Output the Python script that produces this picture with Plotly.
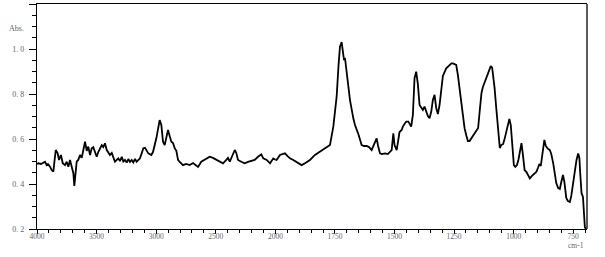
import plotly.graph_objects as go

# Wavenumber (cm-1) and absorbance
wavenumber = [4000, 3989, 3966, 3950, 3933, 3919, 3908, 3891, 3877, 3863, 3853, 3843, 3828, 3815,
              3799, 3784, 3765, 3751, 3737, 3723, 3709, 3695, 3687, 3677, 3667, 3654, 3639, 3625,
              3612, 3597, 3583, 3570, 3555, 3541, 3528, 3513, 3499, 3486, 3471, 3457, 3444, 3430,
              3415, 3402, 3388, 3373, 3360, 3346, 3331, 3318, 3304, 3289, 3276, 3262, 3248, 3234,
              3220, 3206, 3192, 3178, 3164, 3150, 3136, 3122, 3108, 3094, 3080, 3066, 3041, 3027,
              2999, 2985, 2971, 2957, 2943, 2929, 2915, 2901, 2887, 2873, 2859, 2845, 2831, 2817,
              2803, 2775, 2748, 2719, 2691, 2664, 2649, 2622, 2580, 2551, 2524, 2496, 2467, 2440,
              2412, 2398, 2383, 2356, 2341, 2328, 2314, 2286, 2258, 2230, 2202, 2174, 2146, 2118,
              2102, 2073, 2045, 2018, 1995, 1981, 1960, 1949, 1939, 1925, 1911, 1890, 1876, 1855,
              1834, 1813, 1785, 1771, 1757, 1743, 1735, 1729, 1722, 1716, 1712, 1708, 1700, 1687,
              1673, 1666, 1652, 1638, 1628, 1617, 1607, 1596, 1591, 1583, 1575, 1569, 1561, 1553,
              1540, 1528, 1512, 1505, 1500, 1491, 1484, 1479, 1470, 1465, 1456, 1451, 1442, 1437,
              1430, 1423, 1416, 1409, 1402, 1395, 1387, 1381, 1374, 1367, 1360, 1353, 1346, 1339,
              1332, 1325, 1318, 1311, 1304, 1297, 1283, 1269, 1261, 1255, 1247, 1241, 1234, 1225,
              1220, 1213, 1206, 1198, 1192, 1185, 1178, 1171, 1164, 1154, 1149, 1142, 1135, 1129,
              1121, 1115, 1107, 1100, 1096, 1090, 1085, 1080, 1073, 1066, 1058, 1052, 1044, 1037,
              1030, 1024, 1018, 1012, 1004, 999, 993, 986, 980, 974, 967, 961, 954, 946, 939, 932,
              923, 915, 904, 898, 892, 886, 879, 871, 865, 856, 848, 842, 834, 827, 821, 813, 806,
              800, 793, 787, 779, 772, 764, 758, 751, 743, 736, 729, 724, 720, 715, 709, 705, 701, 697]

absorbance = [0.489, 0.492, 0.489, 0.493, 0.499, 0.484, 0.489, 0.477, 0.462, 0.455, 0.498, 0.551, 0.538, 0.507,
              0.529, 0.492, 0.484, 0.499, 0.477, 0.507, 0.477, 0.448, 0.391, 0.453, 0.499, 0.507, 0.529, 0.516,
              0.559, 0.588, 0.547, 0.566, 0.529, 0.559, 0.564, 0.536, 0.521, 0.542, 0.559, 0.573, 0.564, 0.581,
              0.551, 0.542, 0.529, 0.538, 0.521, 0.499, 0.507, 0.514, 0.502, 0.521, 0.500, 0.507, 0.495, 0.511,
              0.498, 0.507, 0.496, 0.511, 0.499, 0.507, 0.514, 0.536, 0.559, 0.561, 0.551, 0.536, 0.529, 0.542,
              0.603, 0.649, 0.684, 0.662, 0.588, 0.573, 0.604, 0.640, 0.613, 0.588, 0.582, 0.559, 0.547, 0.507,
              0.498, 0.484, 0.489, 0.484, 0.493, 0.484, 0.476, 0.499, 0.514, 0.521, 0.516, 0.507, 0.499, 0.492,
              0.507, 0.516, 0.499, 0.536, 0.551, 0.538, 0.507, 0.499, 0.492, 0.498, 0.502, 0.507, 0.521, 0.532,
              0.514, 0.507, 0.492, 0.514, 0.507, 0.529, 0.536, 0.524, 0.514, 0.507, 0.498, 0.484, 0.492, 0.507,
              0.529, 0.544, 0.566, 0.573, 0.655, 0.788, 0.929, 1.010, 1.031, 0.987, 0.951, 0.960, 0.884, 0.773,
              0.692, 0.662, 0.622, 0.573, 0.569, 0.569, 0.564, 0.551, 0.564, 0.587, 0.603, 0.569, 0.536, 0.533,
              0.536, 0.533, 0.551, 0.625, 0.573, 0.551, 0.596, 0.631, 0.640, 0.655, 0.670, 0.677, 0.677, 0.670,
              0.655, 0.707, 0.870, 0.899, 0.844, 0.751, 0.738, 0.729, 0.744, 0.724, 0.702, 0.692, 0.721, 0.773,
              0.796, 0.738, 0.711, 0.751, 0.825, 0.880, 0.914, 0.929, 0.936, 0.936, 0.933, 0.929, 0.884, 0.788,
              0.766, 0.707, 0.648, 0.613, 0.591, 0.591, 0.603, 0.609, 0.625, 0.640, 0.649, 0.729, 0.804, 0.831,
              0.853, 0.871, 0.899, 0.920, 0.924, 0.916, 0.880, 0.827, 0.738, 0.640, 0.560, 0.573, 0.578, 0.604,
              0.631, 0.658, 0.689, 0.662, 0.560, 0.484, 0.476, 0.484, 0.507, 0.538, 0.582, 0.529, 0.462, 0.453, 0.436, 0.425,
              0.436, 0.444, 0.455, 0.471, 0.489, 0.480, 0.529, 0.596, 0.569, 0.556, 0.551, 0.533, 0.493, 0.431, 0.404, 0.382, 0.378,
              0.409, 0.440, 0.409, 0.338, 0.324, 0.320, 0.347, 0.396, 0.462, 0.507, 0.536, 0.516, 0.440, 0.360, 0.342, 0.284, 0.209, 0.200]

high_ticks = [4000, 3500, 3000, 2500, 2000]
low_ticks = [1750, 1500, 1250, 1000, 750]
y_ticks = [0.2, 0.4, 0.6, 0.8, 1.0, 1.2]
y_tick_text = ["0. 2", "0. 4", "0. 6", "0. 8", "1. 0", "1. 2"]

X_END = 692
SPLIT = 0.4335  # fraction of width holding 4000-2000 (scale changes at 2000)

# split with one overlapping point on each side so the line joins at 2000
hi_w = [w for w in wavenumber if w >= 1995]
hi_a = absorbance[:len(hi_w)]
start_lo = next(i for i, w in enumerate(wavenumber) if w < 2000) - 1
lo_w = wavenumber[start_lo:]
lo_a = absorbance[start_lo:]

line = dict(color="black", width=1.8)
fig = go.Figure()
fig.add_trace(go.Scatter(x=hi_w, y=hi_a, mode="lines", line=line, xaxis="x", yaxis="y",
                         showlegend=False, hoverinfo="skip"))
fig.add_trace(go.Scatter(x=lo_w, y=lo_a, mode="lines", line=line, xaxis="x2", yaxis="y",
                         showlegend=False, hoverinfo="skip"))

tfont = dict(family="Liberation Serif", size=8, color="#5f5f6a")
xfont = dict(family="Liberation Serif", size=7.5, color="#5f5f6a")
axis_common = dict(showline=True, linecolor="black", linewidth=1.3, mirror=True,
                   showgrid=False, zeroline=False, ticks="outside", tickcolor="black",
                   tickwidth=1, ticklen=4, tickfont=xfont, ticklabelstandoff=-4)

fig.update_layout(
    width=605, height=257,
    margin=dict(l=37, r=18, t=4, b=28),
    plot_bgcolor="white", paper_bgcolor="white",
    xaxis=dict(domain=[0, SPLIT], range=[4000, 2000], tickmode="array", tickvals=high_ticks,
               ticktext=[str(v) for v in high_ticks], anchor="y",
               minor=dict(tickmode="linear", tick0=4000, dtick=100, ticks="outside",
                          ticklen=3, tickcolor="black", showgrid=False),
               **axis_common),
    xaxis2=dict(domain=[SPLIT, 1], range=[2000, X_END], tickmode="array", tickvals=low_ticks,
                ticktext=[str(v) for v in low_ticks], anchor="y",
                minor=dict(tickmode="linear", tick0=2000, dtick=50, ticks="outside",
                           ticklen=3, tickcolor="black", showgrid=False),
                **axis_common),
    yaxis=dict(range=[0.2, 1.2], tickmode="array", tickvals=y_ticks, ticktext=y_tick_text,
               anchor="x",
               minor=dict(tickmode="linear", tick0=0.2, dtick=0.05, ticks="outside",
                          ticklen=4, tickcolor="black", showgrid=False),
               **{**axis_common, "mirror": False, "ticklen": 7, "tickfont": tfont,
                  "ticklabelstandoff": 3}),
    shapes=[dict(type="line", xref="paper", yref="paper", x0=1, x1=1, y0=0, y1=1,
                 line=dict(color="black", width=1.3))],
    annotations=[
        dict(text="Abs.", xref="paper", yref="paper", x=-0.038, y=0.893, showarrow=False,
             font=tfont, xanchor="center", yanchor="middle"),
        dict(text="cm-1", xref="paper", yref="paper", x=0.98, y=-0.075, showarrow=False,
             font=xfont, xanchor="center", yanchor="middle"),
    ],
)

fig.write_html("out.html")
